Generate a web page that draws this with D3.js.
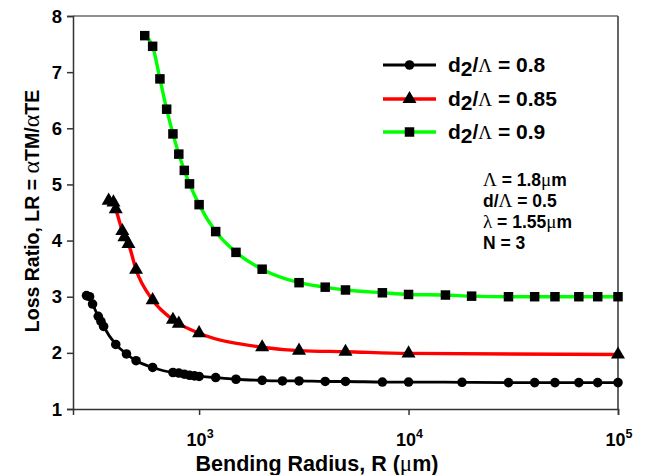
<!DOCTYPE html>
<html><head><meta charset="utf-8">
<script src="https://cdn.jsdelivr.net/npm/d3@7"></script>
<style>body{margin:0;background:#fff}svg{display:block}</style>
</head><body>
<svg id="c" width="646" height="475"></svg>
<script>
const xTicks = [1e3, 1e4, 1e5];
const xTickExp = ["3", "4", "5"];
const yTicks = [1, 2, 3, 4, 5, 6, 7, 8];

const blackR = [290, 300, 310, 330, 340, 350, 400, 450, 500, 600, 750, 800, 850, 900, 950, 1000, 1200, 1500, 2000, 2500, 3000, 4000, 5000, 7500, 10000, 18000, 30000, 40000, 50000, 65000, 80000, 100000];
const blackLR = [3.02, 3.00, 2.87, 2.65, 2.56, 2.47, 2.15, 1.98, 1.86, 1.74, 1.65, 1.64, 1.62, 1.60, 1.59, 1.58, 1.56, 1.53, 1.51, 1.50, 1.50, 1.49, 1.49, 1.48, 1.48, 1.475, 1.47, 1.47, 1.47, 1.47, 1.47, 1.47];

const redR = [370, 390, 400, 430, 440, 460, 500, 600, 750, 800, 1000, 2000, 3000, 5000, 10000, 100000];
const redLR = [4.71, 4.68, 4.56, 4.17, 4.06, 3.94, 3.48, 2.94, 2.59, 2.52, 2.35, 2.10, 2.04, 2.02, 1.99, 1.97];

const greenR = [550, 600, 650, 700, 750, 800, 850, 900, 1000, 1200, 1500, 2000, 3000, 4000, 5000, 7500, 10000, 15000, 20000, 30000, 40000, 50000, 65000, 80000, 100000];
const greenLR = [7.65, 7.46, 6.88, 6.34, 5.90, 5.54, 5.25, 5.01, 4.64, 4.16, 3.79, 3.49, 3.25, 3.17, 3.12, 3.07, 3.04, 3.03, 3.01, 3.00, 3.00, 3.00, 3.00, 3.00, 3.00];

const legendLabels = ["0.8", "0.85", "0.9"];
const seriesColors = ["#000000", "#ff0000", "#00ff00"];
const seriesSymbols = [d3.symbolCircle, d3.symbolTriangle, d3.symbolSquare];
const annotations = [
  [["Λ", true], [" = 1.8", false], ["μ", true], ["m", false]],
  [["d/", false], ["Λ", true], [" = 0.5", false]],
  [["λ", true], [" = 1.55", false], ["μ", true], ["m", false]],
  [["N = 3", false]]
];

const svg = d3.select("#c");
const L = 73, R = 618, T = 16, B = 409;
const x = d3.scaleLog().domain([250, 1e5]).range([L, R]);
const y = d3.scaleLinear().domain([1, 8]).range([B, T]);
const sans = "'Liberation Sans', Arial, sans-serif";
const serif = "'Liberation Serif', 'Times New Roman', serif";

// frame
svg.append("line").attr("x1", L).attr("x2", R).attr("y1", T).attr("y2", T).attr("stroke", "#222").attr("stroke-width", 1.2);
svg.append("line").attr("x1", R).attr("x2", R).attr("y1", T).attr("y2", B).attr("stroke", "#555").attr("stroke-width", 1.8);

// axes
const xa = svg.append("g").attr("transform", `translate(0,${B})`)
  .call(d3.axisBottom(x).tickValues(xTicks).tickSize(6).tickSizeOuter(6).tickFormat(""));
const ya = svg.append("g").attr("transform", `translate(${L},0)`)
  .call(d3.axisLeft(y).tickValues(yTicks).tickSize(6).tickSizeOuter(6).tickFormat(""));
[xa, ya].forEach(g => { g.selectAll("path,line").attr("stroke", "#333").attr("stroke-width", 1.5); });

xTicks.forEach((v, i) => {
  const t = svg.append("text").attr("x", x(v) + 1).attr("y", 446).attr("text-anchor", "middle")
    .attr("font-family", sans).attr("font-weight", "bold").attr("font-size", 18);
  t.append("tspan").text("10");
  t.append("tspan").attr("dy", -8).attr("font-size", 12.5).text(xTickExp[i]);
});
yTicks.forEach(v => {
  svg.append("text").attr("x", 62).attr("y", y(v) + 6.5).attr("text-anchor", "end")
    .attr("font-family", sans).attr("font-weight", "bold").attr("font-size", 18.5).text(v);
});

// axis titles
svg.append("text").attr("x", 317).attr("y", 471).attr("text-anchor", "middle")
  .attr("font-family", sans).attr("font-weight", "bold").attr("font-size", 21.5)
  .call(t => {
    t.append("tspan").text("Bending Radius, R (");
    t.append("tspan").attr("font-family", serif).attr("font-weight", "normal").attr("font-size", 23).text("μ");
    t.append("tspan").text("m)");
  });
svg.append("text").attr("transform", "translate(39,211) rotate(-90)").attr("text-anchor", "middle")
  .attr("font-family", sans).attr("font-weight", "bold").attr("font-size", 19.5)
  .call(t => {
    t.append("tspan").text("Loss Ratio, LR = ");
    t.append("tspan").attr("font-family", serif).attr("font-weight", "normal").attr("font-size", 24).text("α");
    t.append("tspan").text("TM/");
    t.append("tspan").attr("font-family", serif).attr("font-weight", "normal").attr("font-size", 24).text("α");
    t.append("tspan").text("TE");
  });

// series
const series = [[blackR, blackLR], [redR, redLR], [greenR, greenLR]];
const line = d3.line().x(d => x(d[0])).y(d => y(d[1])).curve(d3.curveMonotoneX);
const symSizes = [72, 85, 90];
series.forEach(([rs, vs], i) => {
  const pts = rs.map((r, k) => [r, vs[k]]);
  svg.append("path").datum(pts).attr("d", line).attr("fill", "none")
    .attr("stroke", seriesColors[i]).attr("stroke-width", i === 0 ? 2.8 : 3.4);
});
series.forEach(([rs, vs], i) => {
  const sym = d3.symbol().type(seriesSymbols[i]).size(symSizes[i]);
  svg.append("g").selectAll("path").data(rs.map((r, k) => [r, vs[k]])).join("path")
    .attr("transform", d => `translate(${x(d[0])},${y(d[1])})`)
    .attr("d", sym).attr("fill", "#000");
});

// legend
const legY = [65, 99, 132];
legendLabels.forEach((lab, i) => {
  const g = svg.append("g");
  g.append("line").attr("x1", 383).attr("x2", 436).attr("y1", legY[i]).attr("y2", legY[i])
    .attr("stroke", seriesColors[i]).attr("stroke-width", i === 0 ? 2.8 : 3.4);
  g.append("path").attr("transform", `translate(409.5,${legY[i]})`)
    .attr("d", d3.symbol().type(seriesSymbols[i]).size(symSizes[i])).attr("fill", "#000");
  const t = g.append("text").attr("x", 448).attr("y", legY[i] + 7)
    .attr("font-family", sans).attr("font-weight", "bold").attr("font-size", 21);
  t.append("tspan").text("d");
  t.append("tspan").attr("dy", 4).text("2");
  t.append("tspan").attr("dy", -4).text("/");
  t.append("tspan").attr("font-family", serif).attr("font-weight", "normal").attr("font-size", 19).text("Λ");
  t.append("tspan").text(" = " + lab);
});

// annotation
const annY = [186, 207, 228, 249];
annotations.forEach((parts, i) => {
  const t = svg.append("text").attr("x", 483).attr("y", annY[i])
    .attr("font-family", sans).attr("font-weight", "bold").attr("font-size", 17.5);
  parts.forEach(([s, isSym]) => {
    const sp = t.append("tspan").text(s);
    if (isSym) sp.attr("font-family", serif).attr("font-weight", "normal").attr("font-size", 19);
  });
});
</script>
</body></html>
